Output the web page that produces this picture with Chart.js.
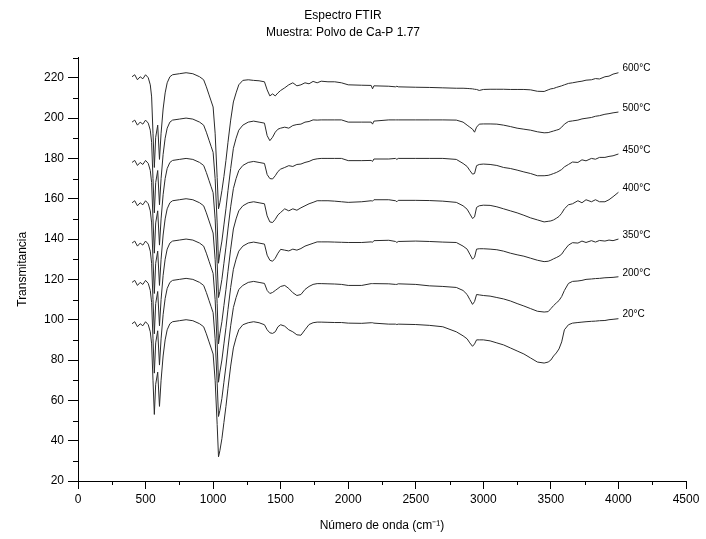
<!DOCTYPE html>
<html><head><meta charset="utf-8">
<script src="https://cdn.jsdelivr.net/npm/chart.js@4"></script>
<style>html,body{margin:0;padding:0;background:#fff}canvas{display:block}</style>
</head><body>
<canvas id="c" width="706" height="539"></canvas>
<script>
// Wavenumbers (cm^-1), shared by every spectrum
const wavenumbers = [
  400,420,440,460,480,500,520,535,545,555,
  565,575,590,603,615,630,645,660,680,700,
  750,800,850,900,930,950,970,985,1000,1015,
  1030,1040,1050,1065,1080,1095,1110,1130,1150,1170,
  1190,1220,1260,1300,1340,1380,1400,1420,1440,1460,
  1480,1500,1530,1560,1590,1620,1650,1680,1710,1740,
  1770,1800,1850,1900,1950,2000,2100,2170,2180,2190,
  2300,2350,2360,2370,2500,2600,2700,2800,2850,2880,
  2900,2920,2935,2950,2970,3000,3050,3100,3150,3200,
  3250,3300,3350,3400,3450,3480,3500,3520,3540,3560,
  3580,3600,3630,3660,3700,3730,3760,3800,3830,3860,
  3900,3930,3960,4000
];

const seriesNames = ['600°C', '500°C', '450°C', '400°C', '350°C', '200°C', '20°C'];

const t600 = [
  220.5,221.5,219,220.5,219.5,221.5,220,216.5,210.5,192.5,
  175.5,190.5,196.5,179.5,192.5,204.5,212.5,217.5,220.5,221.5,
  222,222.5,222,220.5,219,215.5,211.5,208.5,205.5,192.5,
  170.5,155,158,164,171,179,188,199,208,212.5,
  216.5,218.7,219,218.7,218.5,218,214,211,212,211,
  212.5,213.7,215,216.5,217.5,216,216.5,217.5,217,218.2,
  217.5,218.3,218,218,217.5,216.5,216.3,216.2,214.5,216,
  215.8,215.5,215.8,215.5,215.3,215.2,215,214.8,214.8,214.7,
  214.6,214.5,214.3,214.2,213.7,214.2,214.3,214.3,214.3,214.2,
  214.2,214.2,214,213.3,213.2,214,214.5,214.7,215.2,215.6,
  216,216.5,217.2,217.5,218,218.3,218.8,219,219.6,219.4,
  220.5,220.8,221.8,222.5
];
const t500 = [
  198,199,196.5,198,197,199,197.5,194,188,170,
  153,168,174,157,170,182,190,195,198,199,
  199.5,200,199.5,198,196.5,193,189,186,183,170,
  148,128,133,139,147,155,164,175,185,190,
  194,196.5,198,198.5,198,197.5,191.3,188.8,190.5,193,
  194.5,195,195.5,195,196.3,196.8,197,198,198.3,199.1,
  199,199.1,199.1,199.1,199.1,198,198,198,197,198.5,
  199.1,199.1,199.1,199.1,199.1,199.1,199.1,199,198,196.5,
  195.5,194.5,193,195.5,197,197.1,197.1,197,196.5,195.8,
  195,194.5,194,193.2,192.7,192.8,193.2,193.6,194,194.4,
  195.5,197,198.3,198.6,199,199.6,199.9,200.3,200.9,201.2,
  201.9,202.2,202.6,203
];
const t450 = [
  178,179,176.5,178,177,179,177.5,174,168,150,
  133,148,154,137,150,162,170,175,178,179,
  179.5,180,179.5,178,176.5,173,169,166,163,150,
  128,111,114,120,128,136,145,156,165,170,
  174,176.5,178,178.5,178,177.5,172,170,169.8,171.4,
  173.5,174.7,175.5,176.4,176,177,177.2,178,178.5,179.4,
  179.8,180,180,180,180,178.9,178.9,179,178.5,179.7,
  179.7,180,179.5,180,180,180,180,179.5,177.5,176,
  174,172.2,172.5,176.4,177,177.2,177,176.5,175.5,175,
  174.2,173.3,172.5,171.4,171.4,171.6,172,172.5,173,173.7,
  174.5,175.8,177,178.2,178,179.3,178.8,180,179.6,180.5,
  180.5,181,181.3,182.2
];
const t400 = [
  158,159,156.5,158,157,159,157.5,154,148,130,
  113,128,134,117,130,142,150,155,158,159,
  159.5,160,159.5,158,156.5,153,149,146,143,130,
  108,88,93,99,107,115,124,135,145,150,
  154,156.5,158,158.5,158,157.5,151.5,148.5,148.2,149.8,
  152,153.2,155,154,155,154.3,155.5,156.5,157.5,158.2,
  159,159,159,158.8,158.5,158.2,158.5,159,158.8,159.5,
  159.5,159,158.5,159.2,159.2,159.1,158.8,158.2,156.5,154.8,
  152.5,150.2,151,155.7,156.5,156.8,156.7,156,155,154,
  153,151.8,150.5,149.5,148.5,148.8,149,149.5,150.3,151.2,
  152.8,155,157,157.5,159,158,159.5,158.5,159.5,158.5,
  158.5,159.5,161,163.2
];
const t350 = [
  138,139,136.5,138,137,139,137.5,134,128,110,
  93,108,114,97,110,122,130,135,138,139,
  139.5,140,139.5,138,136.5,133,129,126,123,110,
  88,69,74,80,88,96,105,116,125,130,
  134,136.5,138,138.5,138,137.5,132,129.5,129,130.5,
  133,134.9,134.5,134.1,135,134.5,135.3,136.5,137.2,137.9,
  138.6,138.6,138.6,138.5,138.4,138.3,138.3,138.6,138.4,139.2,
  139.4,138.8,138.3,138.8,139,138.8,138.5,138.3,136.5,135,
  132.5,130,131,135,135.2,135.2,135,134.7,134,133,
  132.2,131.5,130.5,129.5,128.8,129,129.5,130.2,130.8,131.5,
  132.5,134.5,137,138.2,138,139,138.3,139.2,138.5,139.3,
  139,139.5,139.2,140
];
const t200 = [
  118.5,119.5,117,118.5,117.5,119.5,118,114.5,108.5,90.5,
  73.5,88.5,94.5,77.5,90.5,102.5,110.5,115.5,118.5,119.5,
  120,120.5,120,118.5,117,113.5,109.5,106.5,103.5,90.5,
  68.5,52,55,61,69,77,86,97,106,111,
  115,117,118.5,119,118.5,118,114.5,113,113.5,114.5,
  115.5,116.5,117,115.5,113.4,112,112.5,115,116.5,117.5,
  117.9,117.9,117.8,117.7,117.5,117,117,117.9,117.9,117.9,
  117.8,117.5,117.5,117.8,117.5,116.8,116.5,116,114.5,112.5,
  110,107.6,109,112.5,112.3,112,111.7,111,110.3,109.3,
  108,106.8,105.5,104.2,103.8,104,105.5,107,108.3,109.5,
  111.5,114.5,118,119,119.2,119.5,120,120.2,120.4,120.5,
  120.8,120.9,121,121.3
];
const t20 = [
  98,99,96.5,98,97,99,97.5,94,88,70,
  53,68,74,57,70,82,90,95,98,99,
  99.5,100,99.5,98,96.5,93,89,86,83,70,
  48,32,35,41,49,57,66,77,86,91,
  95,97.5,98.5,99,98.5,97.5,95,93.5,93.2,94,
  96.5,97.5,96.8,95,94,92.5,92.3,95,97.6,98.5,
  98.8,98.8,98.7,98.6,98.6,98.3,98.2,98.5,98.5,98.3,
  97.8,97.8,97.6,97.8,97.6,97.2,96.5,94,92,90.5,
  88.5,86.8,88,90,90,90,89.5,88.5,87.5,86,
  84.5,83,81,79,78.5,79,80,82,83.5,85.5,
  89,95,97.5,98.3,98.6,98.8,99,99.2,99.3,99.5,
  99.6,100,100.2,100.5
];
const seriesValues = [t600, t500, t450, t400, t350, t200, t20];

// Axis ticks
const xTickValues = [0,500,1000,1500,2000,2500,3000,3500,4000,4500];
const xMinorTickValues = [250,750,1250,1750,2250,2750,3250,3750,4250];
const yTickValues = [20,40,60,80,100,120,140,160,180,200,220];
const yMinorTickValues = [30,50,70,90,110,130,150,170,190,210,230];

const FONT = '"Liberation Sans", Arial, Helvetica, sans-serif';

const datasets = seriesNames.map((name, i) => ({
  label: name,
  data: wavenumbers.map((w, j) => ({x: w, y: seriesValues[i][j]})),
  borderColor: '#2a2a2a',
  borderWidth: 1,
  pointRadius: 0,
  tension: 0,
  fill: false
}));

const extras = {
  id: 'extras',
  afterDatasetsDraw(chart) {
    const ctx = chart.ctx, xs = chart.scales.x, ys = chart.scales.y;
    ctx.save();
    ctx.strokeStyle = '#000';
    ctx.lineWidth = 1;
    ctx.beginPath();
    xMinorTickValues.forEach(v => {
      const px = Math.round(xs.getPixelForValue(v)) + 0.5;
      ctx.moveTo(px, ys.bottom); ctx.lineTo(px, ys.bottom + 4);
    });
    yMinorTickValues.forEach(v => {
      const py = Math.round(ys.getPixelForValue(v)) + 0.5;
      ctx.moveTo(xs.left, py); ctx.lineTo(xs.left - 5, py);
    });
    ctx.stroke();
    ctx.font = '10px ' + FONT;
    ctx.fillStyle = '#000';
    ctx.textBaseline = 'middle';
    ctx.textAlign = 'left';
    chart.data.datasets.forEach((ds, i) => {
      const meta = chart.getDatasetMeta(i);
      const last = meta.data[meta.data.length - 1];
      ctx.fillText(ds.label, last.x + 4, last.y - 4);
    });
    ctx.restore();
  }
};

const plainNumber = v => String(v);

new Chart(document.getElementById('c'), {
  type: 'line',
  data: {datasets},
  plugins: [extras],
  options: {
    responsive: false,
    animation: false,
    devicePixelRatio: 1,
    layout: {padding: {top: 0, right: 20, left: 0, bottom: 0}},
    plugins: {
      legend: {display: false},
      tooltip: {enabled: false},
      title: {
        display: true,
        text: ['Espectro FTIR', 'Muestra: Polvo de Ca-P 1.77'],
        color: '#000',
        font: {family: FONT, size: 12, weight: 'normal', lineHeight: 1.4},
        padding: {top: 7, bottom: 17}
      }
    },
    scales: {
      x: {
        type: 'linear',
        min: 0, max: 4500,
        afterBuildTicks: ax => { ax.ticks = xTickValues.map(v => ({value: v})); },
        afterFit: s => { s.height = 58; },
        grid: {display: true, drawOnChartArea: false, drawTicks: true, tickLength: 8, color: '#000'},
        border: {display: true, color: '#000', width: 1},
        ticks: {color: '#000', font: {family: FONT, size: 12}, padding: 3, maxRotation: 0, autoSkip: false, callback: plainNumber},
        title: {display: true, text: 'Número de onda (cm⁻¹)', color: '#000', font: {family: FONT, size: 12}, padding: {top: 0, bottom: 6}}
      },
      y: {
        type: 'linear',
        min: 20, max: 230,
        afterBuildTicks: ax => { ax.ticks = yTickValues.map(v => ({value: v})); },
        afterFit: s => { s.width = 78; },
        grid: {display: true, drawOnChartArea: false, drawTicks: true, tickLength: 10, color: '#000'},
        border: {display: true, color: '#000', width: 1},
        ticks: {color: '#000', font: {family: FONT, size: 12}, padding: 4, autoSkip: false, callback: plainNumber},
        title: {display: true, text: 'Transmitancia', color: '#000', font: {family: FONT, size: 12}, padding: {top: 15, bottom: 0}}
      }
    }
  }
});
</script>
</body></html>
